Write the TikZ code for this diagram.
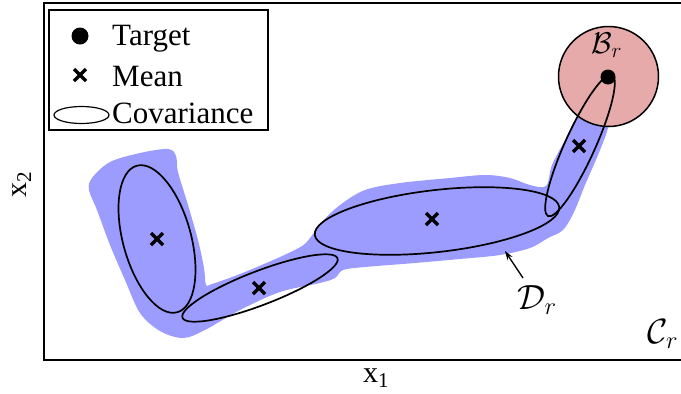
\RequirePackage{fix-cm}
\documentclass[tikz,border=0pt]{standalone}
\usepackage{fontspec}
\setmainfont{Liberation Serif}
\usetikzlibrary{arrows.meta}
\definecolor{blobblue}{HTML}{9C9CFF}
\definecolor{ballpink}{HTML}{E6AAAA}
\tikzset{
  frame/.style={line width=2pt},
  cov/.style={line width=1.7pt},
  crossmark/.pic={\draw[line width=3.4pt] (-6,-6)--(6,6) (-6,6)--(6,-6);},
  lbl/.style={font=\fontsize{31}{36}\selectfont, inner sep=0pt},
}
\begin{document}
\begin{tikzpicture}[x=1pt,y=-1pt]
\useasboundingbox (0,0) rectangle (681,394);
% blue region
\fill[blobblue] plot[smooth cycle, tension=0.55] coordinates {
(92,178) (110,162) (140,153) (168,149) (176,156) (178,172) (188,205) (198,240)
(204,268) (206,285) (212,284) (240,274) (280,257) (302,246) (310,238) (322,222)
(340,205) (365,190) (400,183) (450,178) (485,175) (510,178) (530,185) (546,186)
(552,165) (565,140) (577,117) (592,92) (612,100) (608,128) (598,155) (585,185)
(574,212) (563,230) (548,238) (530,248) (500,255) (460,259) (415,263) (365,267)
(343,270) (335,278) (320,283) (280,292) (240,310) (205,330) (183,338) (160,331)
(140,313) (125,280) (110,245) (97,210) (89,190)};
% ball
\draw[ballpink, fill=ballpink] (608.5,76.5) circle[radius=50];
\draw[line width=1.5pt] (608.5,76.5) circle[radius=50];
% ellipses
\draw[cov, shift={(157,239)}, rotate=-74.6] (0,0) ellipse[x radius=76, y radius=34];
\draw[cov, shift={(260,288)}, rotate=21] (0,0) ellipse[x radius=83, y radius=17];
\draw[cov, shift={(437,221)}, rotate=6.5] (0,0) ellipse[x radius=123, y radius=31];
\draw[cov, shift={(580,145.5)}, rotate=65.6] (0,0) ellipse[x radius=77.5, y radius=15];
% means
\pic at (157,239) {crossmark};
\pic at (259,288) {crossmark};
\pic at (432,219) {crossmark};
\pic at (579,146) {crossmark};
% target
\fill (608,77) circle[radius=7.5];
% labels
\node[inner sep=0pt, font=\fontsize{30}{34}\selectfont] (B) at (607,45) {$\mathcal{B}_r$};
\node[inner sep=0pt, font=\fontsize{35}{40}\selectfont] (D) at (537,300) {$\mathcal{D}_r$};
\coordinate (Dtip) at (505,251);
\draw[line width=1.3pt, -{Stealth[length=9pt,width=6pt]}] (523,278) -- (Dtip);
\node[inner sep=0pt, font=\fontsize{35}{40}\selectfont] (C) at (663,334) {$\mathcal{C}_r$};
% frame
\draw[frame] (44,3) rectangle (690,360);
\node[inner sep=0pt, font=\fontsize{30}{36}\selectfont] (x1) at (376,378) {x\textsubscript{1}};
\node[inner sep=0pt, rotate=90, font=\fontsize{30}{36}\selectfont] (x2) at (22,184) {x\textsubscript{2}};
% legend
\draw[frame, fill=white] (49,10) rectangle (268,130);
\fill (80,36) circle[radius=8.5];
\pic at (80,75) {crossmark};
\draw[line width=1.2pt] (81.5,115) ellipse[x radius=27.5, y radius=8.5];
\node[lbl, anchor=base west] (t1) at (112,45) {Target};
\node[lbl, anchor=base west] (t2) at (112,86) {Mean};
\node[lbl, anchor=base west] (t3) at (112,123) {Covariance};
\end{tikzpicture}
\end{document}
